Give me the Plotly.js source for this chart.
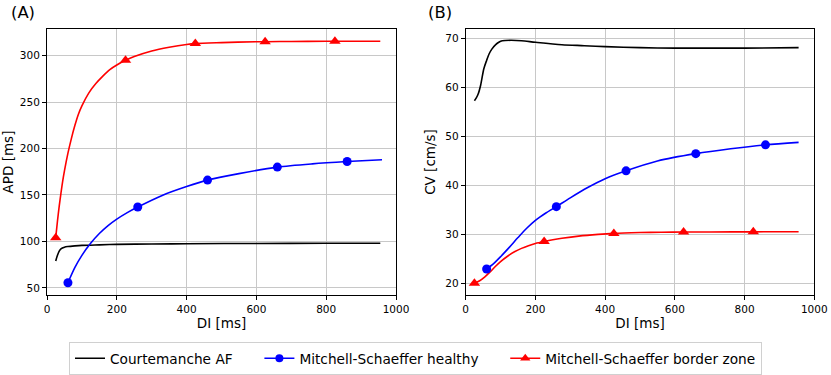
<!DOCTYPE html>
<html lang="en">
<head>
    <meta charset="UTF-8">
    <title>APD and CV restitution</title>
    <script src="https://cdn.plot.ly/plotly-3.0.1.min.js"></script>
    <style>
        body {
            margin: 0;
            padding: 0;
            background-color: white;
        }
        #plot {
            width: 831px;
            height: 375px;
        }
    </style>
</head>
<body>
    <div id="plot"></div>

    <script>
        // (A) APD restitution
        const apdCourtDI = [25, 30, 35, 40, 50, 60, 80, 100, 150, 200, 300, 400, 600, 800, 955];
        const apdCourt = [79, 85, 89.5, 92, 93.8, 94.5, 95.2, 95.7, 96.3, 96.8, 97.2, 97.5, 97.8, 98, 98];

        const apdHealthyDI = [60, 80, 100, 125, 150, 175, 200, 230, 260, 330, 400, 460, 550, 660, 760, 860, 960];
        const apdHealthy = [55.5, 72, 85, 98, 108.5, 117, 124, 131, 137, 149.5, 159, 166, 173, 180, 183.5, 186, 188];

        const apdBorderDI = [25, 30, 35, 40, 45, 50, 60, 70, 80, 90, 100, 120, 140, 160, 180, 200, 225, 250, 300, 350, 400, 425, 500, 600, 625, 700, 800, 825, 955];
        const apdBorder = [104, 122, 138, 152, 165, 176, 195, 211, 225, 237, 246, 260, 270, 278, 285, 290, 295, 299, 305, 309, 312, 313, 314, 315, 315, 315.3, 315.5, 315.5, 315.5];

        // (B) CV restitution
        const cvCourtDI = [25, 30, 36, 43, 52, 60, 67, 75, 86, 95, 105, 130, 160, 200, 276, 340, 400, 500, 600, 700, 800, 955];
        const cvCourt = [57.3, 57.8, 58.7, 60.5, 63.8, 65.5, 66.8, 67.8, 68.7, 69.2, 69.5, 69.6, 69.5, 69.2, 68.7, 68.5, 68.3, 68.1, 68.0, 68.0, 68.0, 68.1];

        const cvHealthyDI = [60, 80, 100, 125, 150, 175, 200, 230, 260, 300, 350, 400, 460, 550, 660, 760, 860, 955];
        const cvHealthy = [23, 24.1, 25.5, 27.4, 29.4, 31.3, 32.9, 34.4, 35.7, 37.5, 39.6, 41.4, 43, 45, 46.5, 47.5, 48.3, 48.8];

        const cvBorderDI = [25, 40, 55, 70, 85, 100, 120, 140, 160, 180, 200, 225, 250, 276, 324, 380, 425, 500, 562, 625, 700, 825, 955];
        const cvBorder = [20.1, 20.6, 21.4, 22.4, 23.5, 24.5, 25.6, 26.5, 27.2, 27.75, 28.2, 28.6, 28.95, 29.25, 29.7, 30.05, 30.25, 30.42, 30.5, 30.53, 30.55, 30.57, 30.6];

        // marker positions
        const healthyMarkDI = [60, 260, 460, 660, 860];
        const borderMarkDI = [25, 225, 425, 625, 825];
        const apdHealthyMark = [55.5, 137, 166, 180, 186];
        const apdBorderMark = [104, 295, 313, 315, 315.5];
        const cvHealthyMark = [23, 35.7, 43, 46.5, 48.3];
        const cvBorderMark = [20.1, 28.6, 30.25, 30.53, 30.57];

        const legendNames = ['Courtemanche AF', 'Mitchell-Schaeffer healthy', 'Mitchell-Schaeffer border zone'];
        const xTicks = [0, 200, 400, 600, 800, 1000];
        const apdTicks = [50, 100, 150, 200, 250, 300];
        const cvTicks = [20, 30, 40, 50, 60, 70];

        const RED = '#ff0000', BLUE = '#0000ff', BLACK = '#000000';
        const pad = '\u00a0\u00a0\u00a0\u00a0\u00a0';

        function curve(x, y, color, xa, ya) {
            return {
                x: x, y: y, xaxis: xa, yaxis: ya,
                type: 'scatter', mode: 'lines',
                line: { color: color, width: 1.6, shape: 'spline', smoothing: 0.8 },
                showlegend: false, hoverinfo: 'skip'
            };
        }

        function marks(x, y, color, symbol, size, xa, ya) {
            return {
                x: x, y: y, xaxis: xa, yaxis: ya,
                type: 'scatter', mode: 'markers',
                marker: { color: color, symbol: symbol, size: size },
                showlegend: false, hoverinfo: 'skip'
            };
        }

        // legend-only entries (line + marker like matplotlib)
        function legendEntry(name, color, mode, symbol, size) {
            return {
                x: [null], y: [null], type: 'scatter', mode: mode, name: name,
                line: { color: color, width: 1.6 },
                marker: { color: color, symbol: symbol, size: size }
            };
        }

        const traces = [
            curve(apdCourtDI, apdCourt, BLACK, 'x', 'y'),
            curve(apdHealthyDI, apdHealthy, BLUE, 'x', 'y'),
            curve(apdBorderDI, apdBorder, RED, 'x', 'y'),
            marks(healthyMarkDI, apdHealthyMark, BLUE, 'circle', 9, 'x', 'y'),
            marks(borderMarkDI, apdBorderMark, RED, 'triangle-up', 10, 'x', 'y'),

            curve(cvCourtDI, cvCourt, BLACK, 'x2', 'y2'),
            curve(cvHealthyDI, cvHealthy, BLUE, 'x2', 'y2'),
            curve(cvBorderDI, cvBorder, RED, 'x2', 'y2'),
            marks(healthyMarkDI, cvHealthyMark, BLUE, 'circle', 9, 'x2', 'y2'),
            marks(borderMarkDI, cvBorderMark, RED, 'triangle-up', 10, 'x2', 'y2'),

            legendEntry(legendNames[0] + pad, BLACK, 'lines', 'circle', 8),
            legendEntry(legendNames[1] + pad, BLUE, 'lines+markers', 'circle', 8),
            legendEntry(legendNames[2], RED, 'lines+markers', 'triangle-up', 9)
        ];

        const axisCommon = {
            showline: true, mirror: true, linecolor: 'black', linewidth: 1,
            ticks: 'outside', ticklen: 4, tickcolor: 'black', tickwidth: 1,
            showgrid: true, gridcolor: '#c8c8c8', gridwidth: 1,
            zeroline: false,
            tickfont: { family: 'DejaVu Sans', size: 10.5, color: 'black' }
        };

        const layout = {
            width: 831,
            height: 375,
            margin: { l: 0, r: 0, t: 29, b: 76 },
            paper_bgcolor: 'white',
            plot_bgcolor: 'white',
            font: { family: 'DejaVu Sans', color: 'black' },
            showlegend: true,
            legend: {
                orientation: 'h',
                x: 0.5, xanchor: 'center',
                y: -0.176, yanchor: 'top',
                bgcolor: 'white',
                bordercolor: '#d0d0d0',
                borderwidth: 1,
                font: { family: 'DejaVu Sans', size: 13.7, color: 'black' }
            },
            xaxis: Object.assign({}, axisCommon, {
                domain: [47 / 831, 396 / 831], range: [0, 1000], tickvals: xTicks,
                anchor: 'y',
                title: { text: 'DI [ms]', font: { size: 13.5 }, standoff: 4 }
            }),
            yaxis: Object.assign({}, axisCommon, {
                range: [42.3, 328.7], tickvals: apdTicks, anchor: 'x',
                title: { text: 'APD [ms]', font: { size: 13.5 }, standoff: 6 }
            }),
            xaxis2: Object.assign({}, axisCommon, {
                domain: [465.7 / 831, 814.3 / 831], range: [0, 1000], tickvals: xTicks,
                anchor: 'y2',
                title: { text: 'DI [ms]', font: { size: 13.5 }, standoff: 4 }
            }),
            yaxis2: Object.assign({}, axisCommon, {
                range: [17.7, 71.9], tickvals: cvTicks, anchor: 'x2',
                title: { text: 'CV [cm/s]', font: { size: 13.5 }, standoff: 6 }
            }),
            annotations: [
                { text: '(A)', xref: 'paper', yref: 'paper', x: 23 / 831, y: 1.061,
                  showarrow: false, font: { size: 16.4 }, xanchor: 'center', yanchor: 'middle' },
                { text: '(B)', xref: 'paper', yref: 'paper', x: 439.7 / 831, y: 1.061,
                  showarrow: false, font: { size: 16.4 }, xanchor: 'center', yanchor: 'middle' }
            ]
        };

        Plotly.newPlot('plot', traces, layout, { displayModeBar: false, staticPlot: true });
    </script>
</body>
</html>
